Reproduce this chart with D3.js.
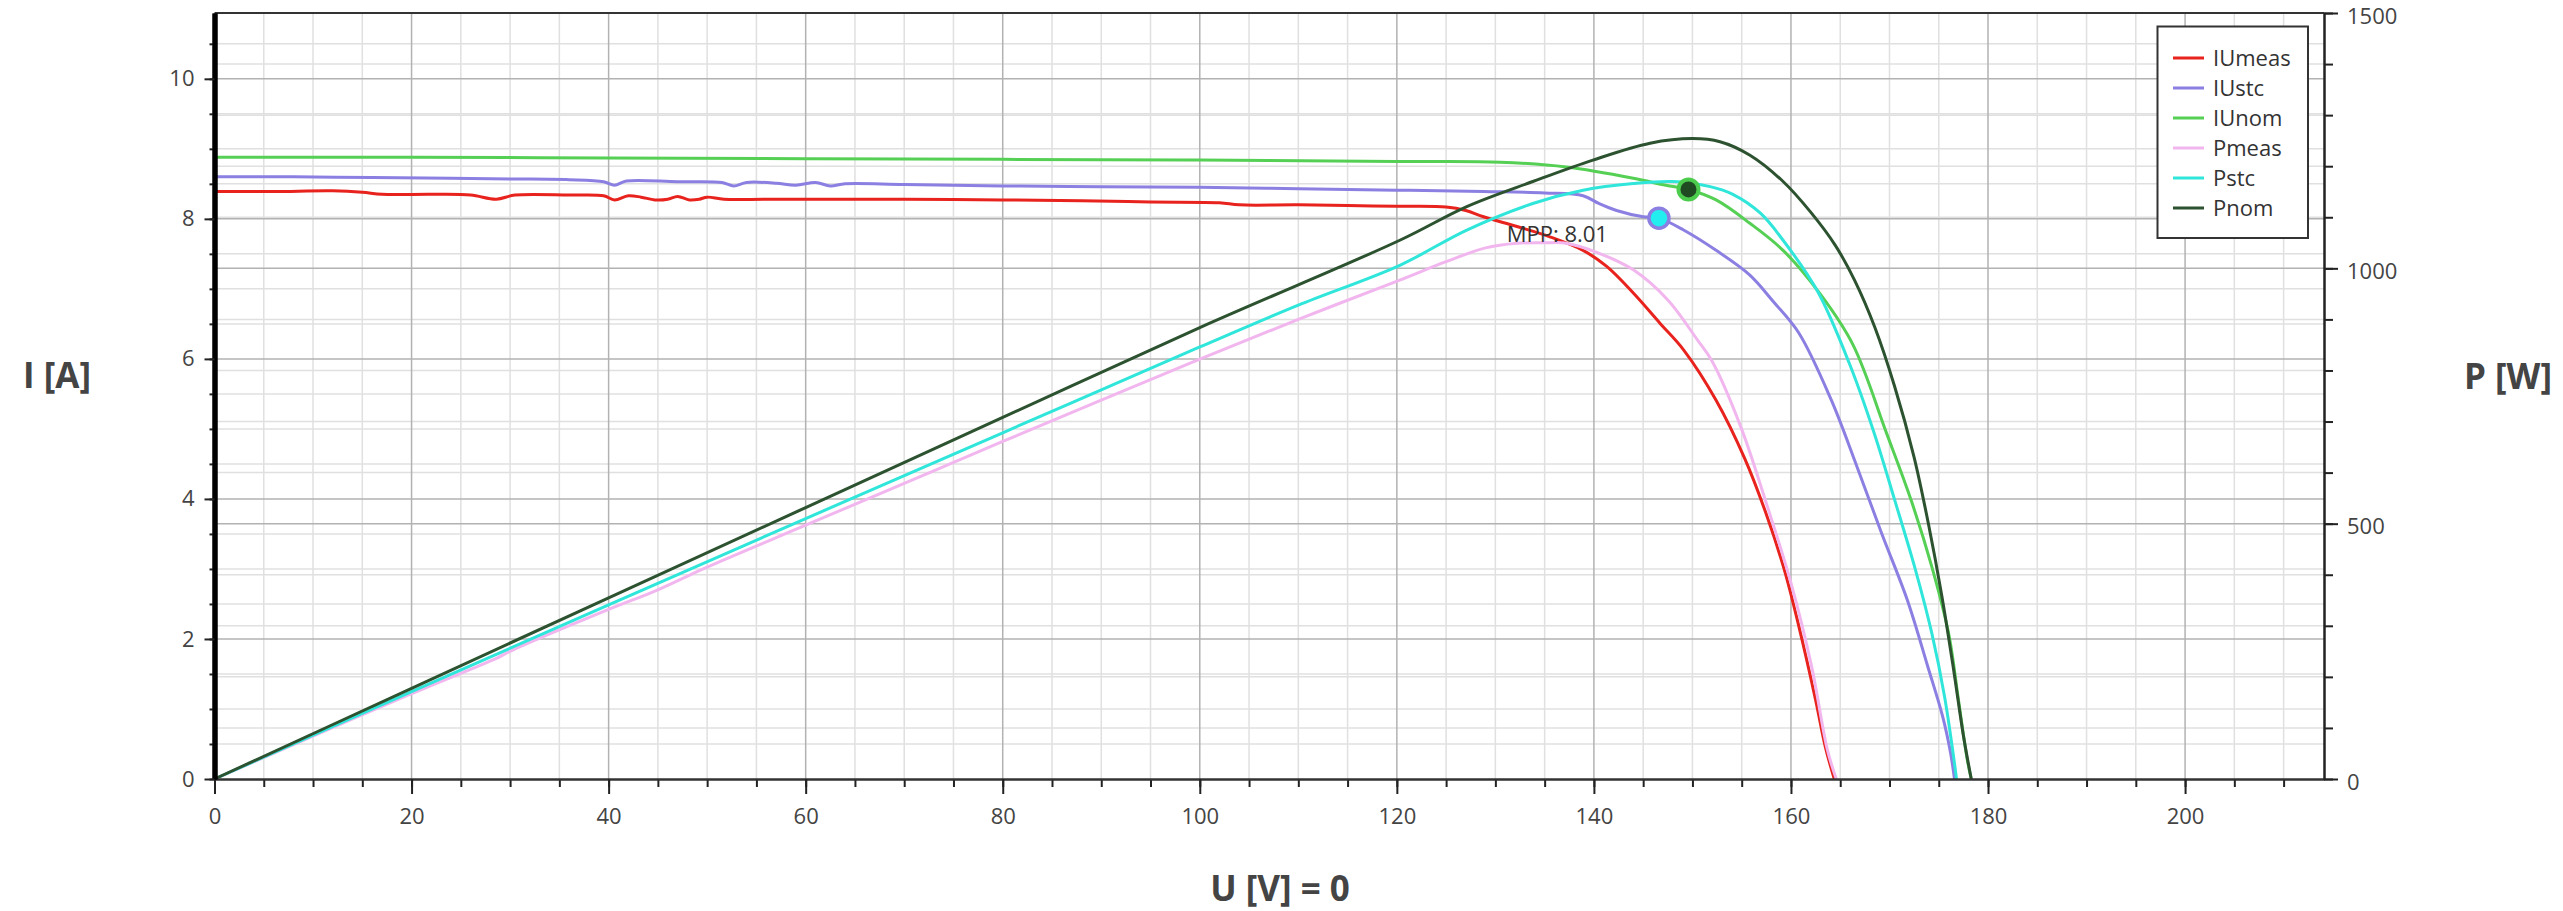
<!DOCTYPE html>
<html>
<head>
<meta charset="utf-8">
<script src="https://cdn.jsdelivr.net/npm/d3@7"></script>
<style>
  body { margin: 0; background: #fff; }
  svg { display: block; font-family: "Open Sans", "Noto Sans", sans-serif; }
</style>
</head>
<body>
<div id="chart"></div>
<script>
// measured / stc / nominal I-U curves  [U (V), I (A)]
var iuMeas = [[0,8.39],[6,8.39],[12,8.40],[15,8.38],[17,8.35],[22,8.35],[26,8.34],[28.6,8.28],[30.5,8.34],[36,8.34],[39.5,8.33],[40.6,8.27],[42,8.33],[43.3,8.31],[44.7,8.27],[46,8.28],[47,8.32],[48.2,8.27],[49.2,8.28],[50,8.31],[51.7,8.28],[56,8.28],[62,8.28],[70,8.28],[80,8.27],[88,8.26],[95,8.24],[102,8.23],[104,8.20],[110,8.20],[115,8.19],[120,8.18],[125,8.17],[127,8.12],[128.8,8.03],[132.2,7.89],[135.6,7.74],[138.9,7.55],[141.3,7.32],[144,6.94],[146.7,6.51],[149.1,6.13],[152.4,5.41],[155.3,4.58],[157.4,3.82],[159.3,3.00],[160.8,2.18],[162.5,1.13],[163.5,0.45],[164.4,0]];
var iuStc = [[0,8.60],[8,8.60],[16,8.59],[24,8.58],[30,8.57],[36,8.56],[39.5,8.53],[40.6,8.48],[41.8,8.54],[47,8.53],[51.5,8.52],[52.7,8.47],[54,8.52],[57,8.51],[59,8.48],[61,8.52],[62.5,8.47],[64,8.50],[70,8.49],[80,8.47],[90,8.46],[100,8.45],[110,8.43],[120,8.41],[128.8,8.39],[135,8.37],[138.9,8.33],[140.5,8.22],[142.3,8.12],[145,8.03],[146.6,8.01],[149.1,7.84],[152.4,7.55],[155.8,7.20],[158.2,6.82],[160.8,6.37],[164.1,5.41],[166.7,4.46],[169.2,3.51],[171.8,2.56],[173.9,1.60],[175.4,0.89],[176.2,0.37],[176.6,0]];
var iuNom = [[0,8.88],[20,8.88],[40,8.87],[60,8.86],[80,8.85],[100,8.84],[120,8.82],[130.5,8.81],[137.2,8.74],[144,8.58],[147.3,8.48],[149.6,8.42],[152.4,8.27],[155.8,7.94],[159.2,7.55],[163,6.92],[166.3,6.20],[169.7,4.94],[172.2,3.98],[174.3,3.03],[176,2.08],[177,1.13],[177.9,0.27],[178.3,0]];

// power curves  [U (V), P (W)]
var pMeas = [[0,0],[10,84],[20,167],[28.6,236],[30,250],[40,332],[44.7,368],[50,415],[60,497],[70,579],[80,661],[90,742],[100,822],[110,900],[120.3,977],[125,1013],[129,1040],[132.2,1049],[135,1050],[137.2,1049],[140.6,1029],[144,997],[147.5,938],[150.5,860],[152,818],[154.9,690],[157.4,546],[160,384],[162.1,220],[163.7,57],[164.6,0]];
var pStc = [[0,0],[20,171],[40,341],[60,510],[80,678],[100,846],[110,928],[120.3,1006],[127.1,1075],[133.8,1127],[138.9,1153],[144,1166],[148,1170],[151.8,1160],[154.1,1145],[156.9,1108],[159.2,1055],[162.7,955],[165.9,815],[168.4,680],[170.5,548],[172.6,412],[174.3,285],[175.6,160],[176.6,30],[176.8,0]];
var pNom = [[0,0],[20,177.6],[40,354.8],[60,531.6],[80,708],[100,884],[120.3,1055],[127.1,1121],[133.8,1170],[139.9,1212],[145.7,1245],[150,1254],[152.8,1248],[155.8,1222],[159.2,1170],[162,1110],[164.5,1045],[166.5,975],[168.5,885],[170.5,770],[172.5,630],[174,495],[175.3,360],[176.5,215],[177.5,85],[178.3,0]];

// maximum power points [U, I]
var mppNom = [149.6, 8.42];
var mppStc = [146.6, 8.01];

var seriesNames = ["IUmeas", "IUstc", "IUnom", "Pmeas", "Pstc", "Pnom"];
var seriesColors = ["#e8221d", "#8b7fe2", "#55d055", "#f2b6ef", "#30e6da", "#2c5230"];

var uTicks = d3.range(0, 211, 5);
var uLabels = d3.range(0, 201, 20);
var iTicks = d3.range(0, 10.51, 0.5);
var iLabels = [0, 2, 4, 6, 8, 10];
var pTicks = d3.range(0, 1501, 100);
var pLabels = [0, 500, 1000, 1500];

var width = 2563, height = 911;
var margin = {left: 214.5, right: 239, top: 13, bottom: 132};

var svg = d3.select("#chart").append("svg")
    .attr("width", width)
    .attr("height", height);

// scales
var x = d3.scaleLinear().domain([0, 214.1]).range([margin.left, width - margin.right]);
var yI = d3.scaleLinear().domain([0, 10.94]).range([height - margin.bottom, margin.top]);
var yP = d3.scaleLinear().domain([0, 1500]).range([height - margin.bottom, margin.top]);

var x0 = x.range()[0], x1 = x.range()[1], yb = yI.range()[0], yt = yI.range()[1];

// grid - minor first, then major
var grid = svg.append("g");
var minor = "#e0e0e0", major = "#b2b2b2";

function vline(u, c) {
  grid.append("line").attr("x1", x(u)).attr("x2", x(u)).attr("y1", yt).attr("y2", yb)
    .attr("stroke", c).attr("stroke-width", 1.5);
}
function hline(y, c) {
  grid.append("line").attr("x1", x0).attr("x2", x1).attr("y1", y).attr("y2", y)
    .attr("stroke", c).attr("stroke-width", 1.5);
}
uTicks.filter(function(u) { return u % 20 !== 0; }).forEach(function(u) { vline(u, minor); });
iTicks.filter(function(v) { return v % 2 !== 0; }).forEach(function(v) { hline(yI(v), minor); });
pTicks.filter(function(v) { return v % 500 !== 0; }).forEach(function(v) { hline(yP(v), minor); });
uTicks.filter(function(u) { return u % 20 === 0 && u > 0; }).forEach(function(u) { vline(u, major); });
iTicks.filter(function(v) { return v % 2 === 0 && v > 0; }).forEach(function(v) { hline(yI(v), major); });
pTicks.filter(function(v) { return v % 500 === 0 && v > 0 && v < 1500; }).forEach(function(v) { hline(yP(v), major); });

// top border
svg.append("line").attr("x1", x0).attr("x2", x1).attr("y1", yt).attr("y2", yt)
  .attr("stroke", "#333").attr("stroke-width", 2);

// curves
var lineI = d3.line()
    .x(function(d) { return x(d[0]); })
    .y(function(d) { return yI(d[1]); })
    .curve(d3.curveCatmullRom.alpha(0.5));
var lineP = d3.line()
    .x(function(d) { return x(d[0]); })
    .y(function(d) { return yP(d[1]); })
    .curve(d3.curveCatmullRom.alpha(0.5));

var curves = [[iuMeas, lineI], [iuStc, lineI], [iuNom, lineI], [pMeas, lineP], [pStc, lineP], [pNom, lineP]];
curves.forEach(function(c, i) {
  svg.append("path")
    .attr("d", c[1](c[0]))
    .attr("fill", "none")
    .attr("stroke", seriesColors[i])
    .attr("stroke-width", 3)
    .attr("stroke-linejoin", "round");
});

// mpp markers
svg.append("circle")
  .attr("cx", x(mppNom[0])).attr("cy", yI(mppNom[1])).attr("r", 10)
  .attr("fill", "#1f4a22").attr("stroke", "#4ccc4c").attr("stroke-width", 4);
svg.append("circle")
  .attr("cx", x(mppStc[0])).attr("cy", yI(mppStc[1])).attr("r", 10)
  .attr("fill", "#22eef0").attr("stroke", "#8b7fe2").attr("stroke-width", 3.5);
svg.append("text")
  .attr("x", x(mppStc[0]) - 51)
  .attr("y", yI(mppStc[1]) + 24)
  .attr("text-anchor", "end")
  .attr("font-size", "22px")
  .attr("fill", "#333")
  .text("MPP: " + mppStc[1].toFixed(2));

// axes
function styleAxis(g, sw, col) {
  g.selectAll(".tick line").attr("stroke", "#222").attr("stroke-width", 2);
  g.selectAll(".tick text").attr("font-size", "22px").attr("fill", "#444")
    .style("font-family", "'Open Sans', sans-serif");
  g.select(".domain").attr("stroke", col).attr("stroke-width", sw);
}

// bottom
var gxm = svg.append("g").attr("transform", "translate(0," + yb + ")")
  .call(d3.axisBottom(x).tickValues(uTicks).tickSize(8).tickSizeOuter(0).tickFormat(""));
styleAxis(gxm, 2, "#333");
var gx = svg.append("g").attr("transform", "translate(0," + yb + ")")
  .call(d3.axisBottom(x).tickValues(uLabels).tickSize(15).tickSizeOuter(0).tickPadding(14).tickFormat(d3.format("d")));
styleAxis(gx, 2, "#333");

// right (power)
var gpm = svg.append("g").attr("transform", "translate(" + x1 + ",0)")
  .call(d3.axisRight(yP).tickValues(pTicks).tickSize(9).tickSizeOuter(0).tickFormat(""));
styleAxis(gpm, 2, "#222");
var gp = svg.append("g").attr("transform", "translate(" + x1 + ",0)")
  .call(d3.axisRight(yP).tickValues(pLabels).tickSize(14).tickSizeOuter(0).tickPadding(9).tickFormat(d3.format("d")));
styleAxis(gp, 2, "#222");
gp.selectAll(".tick text").attr("dy", "0.32em").attr("y", 3);

// left (current)
var gim = svg.append("g").attr("transform", "translate(" + x0 + ",0)")
  .call(d3.axisLeft(yI).tickValues(iTicks).tickSize(5).tickSizeOuter(0).tickFormat(""));
styleAxis(gim, 5, "#000");
var gi = svg.append("g").attr("transform", "translate(" + x0 + ",0)")
  .call(d3.axisLeft(yI).tickValues(iLabels).tickSize(10).tickSizeOuter(0).tickPadding(10).tickFormat(d3.format("d")));
styleAxis(gi, 5, "#000");

// axis titles
svg.append("text").attr("x", 57).attr("y", 376).attr("dy", "0.35em")
  .attr("text-anchor", "middle").attr("font-size", "35px").attr("font-weight", "bold")
  .attr("fill", "#444").text("I [A]");
svg.append("text").attr("x", 2508).attr("y", 377).attr("dy", "0.35em")
  .attr("text-anchor", "middle").attr("font-size", "35px").attr("font-weight", "bold")
  .attr("fill", "#444").text("P [W]");
svg.append("text").attr("x", 1280).attr("y", 889).attr("dy", "0.35em")
  .attr("text-anchor", "middle").attr("font-size", "35px").attr("font-weight", "bold")
  .attr("fill", "#444").text("U [V] = 0");

// legend
var legend = svg.append("g");
legend.append("rect")
  .attr("x", 2157.5).attr("y", 26.5).attr("width", 150.5).attr("height", 211.5)
  .attr("fill", "#fff").attr("stroke", "#333").attr("stroke-width", 2);
var rows = legend.selectAll("g.row")
  .data(seriesNames)
  .enter()
  .append("g")
  .attr("class", "row")
  .attr("transform", function(d, i) { return "translate(2173," + (58 + i * 30) + ")"; });
rows.append("line")
  .attr("x1", 0).attr("x2", 31)
  .attr("stroke", function(d, i) { return seriesColors[i]; })
  .attr("stroke-width", 3);
rows.append("text")
  .attr("x", 40).attr("dy", "0.35em")
  .attr("font-size", "22px").attr("fill", "#333")
  .text(function(d) { return d; });
</script>
</body>
</html>
